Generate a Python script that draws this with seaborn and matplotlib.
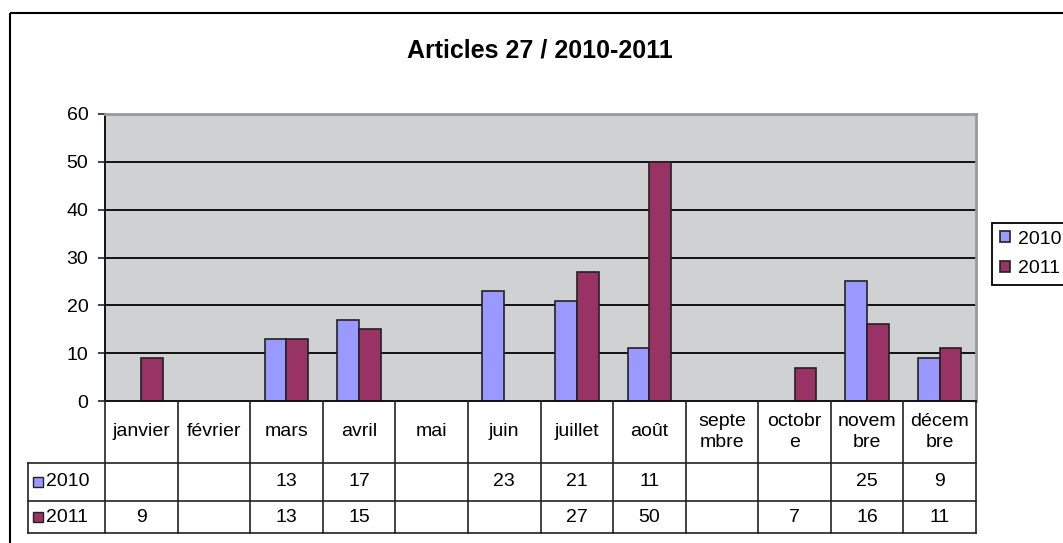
import numpy as np
import pandas as pd
import matplotlib
matplotlib.use('Agg')
import matplotlib.pyplot as plt
import matplotlib.transforms as mtransforms
from matplotlib.lines import Line2D
from matplotlib.patches import Rectangle
import seaborn as sns

months = ['janvier', 'février', 'mars', 'avril', 'mai', 'juin', 'juillet',
          'août', 'septembre', 'octobre', 'novembre', 'décembre']
month_labels = ['janvier', 'février', 'mars', 'avril', 'mai', 'juin', 'juillet',
                'août', 'septe\nmbre', 'octobr\ne', 'novem\nbre', 'décem\nbre']
years = ['2010', '2011']
v2010 = [np.nan, np.nan, 13, 17, np.nan, 23, 21, 11, np.nan, np.nan, 25, 9]
v2011 = [9, np.nan, 13, 15, np.nan, np.nan, 27, 50, np.nan, 7, 16, 11]
yticks = [0, 10, 20, 30, 40, 50, 60]
colors = ['#9999ff', '#993366']

W, H = 1063, 543
plt.rcParams['font.family'] = ['Liberation Sans', 'DejaVu Sans']

df = pd.DataFrame({'mois': months, '2010': v2010, '2011': v2011})
long = df.melt(id_vars='mois', var_name='annee', value_name='articles').dropna()

fig = plt.figure(figsize=(W / 100, H / 100), dpi=100)
ax = fig.add_axes([105 / W, 1 - 401 / H, (976 - 105) / W, (401 - 114) / H])
sns.barplot(data=long, x='mois', y='articles', hue='annee', order=months,
            hue_order=years, palette=colors, saturation=1, width=0.6,
            edgecolor='#222222', linewidth=1.2, ax=ax)

ax.set_xlim(-0.5, 11.5)
ax.set_ylim(0, 60)
ax.set_yticks(yticks)
ax.set_facecolor('#d0d1d3')
ax.set_xlabel('')
ax.set_ylabel('')
for v in yticks[1:-1]:
    ax.axhline(v, color='#111111', lw=1.4, zorder=0.5)

ax.spines['top'].set_color('#999999')
ax.spines['right'].set_color('#999999')
ax.spines['top'].set_linewidth(2)
ax.spines['right'].set_linewidth(2)
ax.spines['left'].set_color('#111111')
ax.spines['bottom'].set_color('#111111')
ax.spines['left'].set_linewidth(1.4)
ax.spines['bottom'].set_linewidth(1.4)
ax.tick_params(axis='y', length=5, width=1.1, pad=7, labelsize=14, color='#111111')
ax.tick_params(axis='x', bottom=False, labelbottom=False)

# pixel helpers (origin top-left)
pixT = mtransforms.Affine2D().scale(1 / W, -1 / H).translate(0, 1) + fig.transFigure
blend = mtransforms.blended_transform_factory(ax.transData, pixT)

# legend
handles, labels = ax.get_legend_handles_labels()
leg = ax.legend(handles, labels, loc='upper left', bbox_to_anchor=(992, 223),
                bbox_transform=pixT, frameon=True, fancybox=False,
                edgecolor='black', framealpha=1, fontsize=14,
                handlelength=0.5, handleheight=0.5, handletextpad=0.45,
                borderpad=0.4, labelspacing=0.65, borderaxespad=0)
leg.get_frame().set_linewidth(1.3)

# title
fig.text(540 / W, 1 - 50 / H, 'Articles 27 / 2010-2011', ha='center', va='center',
         fontsize=18, fontweight='bold')

# data table under the chart
lc, lw = '#222222', 1.2
x_right = 976
for y in [463, 501, 533]:
    fig.add_artist(Line2D([28, x_right], [y, y], transform=pixT, color=lc, lw=lw))
fig.add_artist(Line2D([28, 28], [463, 533], transform=pixT, color=lc, lw=lw))
fig.add_artist(Line2D([x_right, x_right], [401, 533], transform=pixT, color=lc, lw=lw))
for i in range(len(months)):
    fig.add_artist(Line2D([i - 0.5, i - 0.5], [401, 533], transform=blend, color=lc, lw=lw))
    fig.text(i, 432, month_labels[i], transform=blend, ha='center', va='center',
             fontsize=14, linespacing=1.3, multialignment='center')

rows = [(v2010, 482), (v2011, 517)]
for (vals, yc), yr, col in zip(rows, years, colors):
    fig.add_artist(Rectangle((33, yc - 5), 10, 10, transform=pixT,
                             facecolor=col, edgecolor='#222222', lw=1))
    fig.text(46, yc, yr, transform=pixT, ha='left', va='center', fontsize=14)
    for i, v in enumerate(vals):
        if not np.isnan(v):
            fig.text(i, yc, str(int(v)), transform=blend, ha='center',
                     va='center', fontsize=14)

# outer chart border (runs off the right and bottom edges)
fig.add_artist(Rectangle((10, 13), 1100, 600, transform=pixT, fill=False,
                         edgecolor='black', lw=1.5))

fig.savefig('out.png', dpi=100)
